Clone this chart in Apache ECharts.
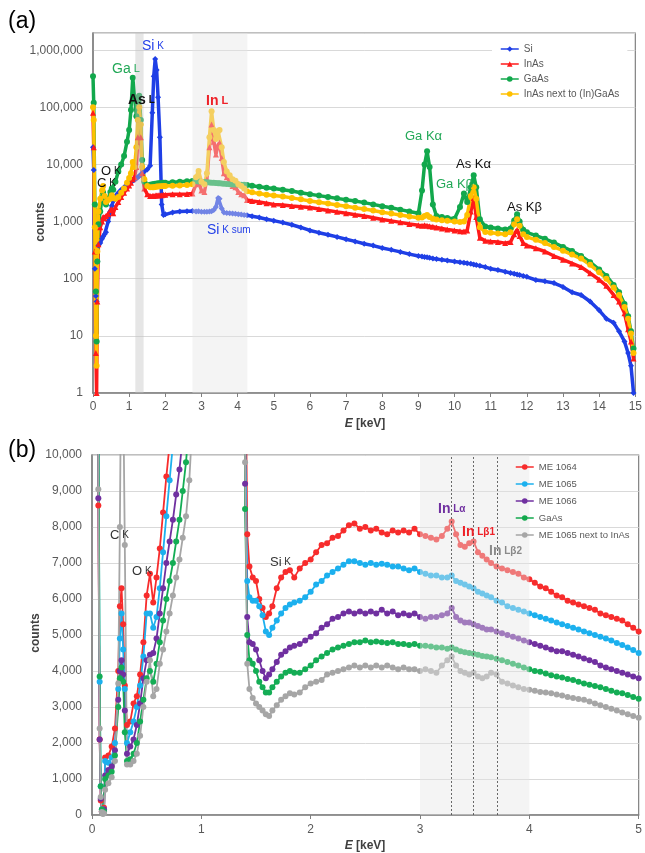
<!DOCTYPE html>
<html><head><meta charset="utf-8">
<script src="https://cdn.jsdelivr.net/npm/echarts/dist/echarts.min.js"></script>
<style>html,body{margin:0;padding:0;background:#fff}#c{width:645px;height:853px}</style>
</head><body><div id="c"></div>
<script>
// ---------- Panel (a): energies (keV) ----------
const E_A = [0,0.02,0.05,0.08,0.10,0.12,0.15,0.20,0.25,0.28,
0.32,0.36,0.42,0.48,0.52,0.56,0.62,0.70,0.78,0.86,
0.94,1.00,1.05,1.10,1.15,1.20,1.24,1.28,1.32,1.36,
1.42,1.50,1.58,1.64,1.68,1.72,1.76,1.80,1.85,1.90,
1.95,2.00,2.20,2.40,2.60,2.75,2.85,2.92,3.00,3.08,
3.15,3.22,3.28,3.34,3.40,3.46,3.50,3.56,3.62,3.70,
3.78,3.86,3.94,4.02,4.10,4.18,4.26,4.40,4.60,4.80,
5.00,5.25,5.50,5.75,6.00,6.25,6.50,6.75,7.00,7.25,
7.50,7.75,8.00,8.25,8.50,8.75,9.00,9.10,9.17,9.24,
9.31,9.40,9.50,9.65,9.80,10.00,10.15,10.26,10.35,10.45,
10.53,10.60,10.70,10.85,11.00,11.20,11.40,11.55,11.65,11.73,
11.80,11.90,12.00,12.25,12.50,12.75,13.00,13.25,13.50,13.75,
14.00,14.20,14.40,14.55,14.70,14.80,14.88,14.95];

const A_SI = [20000,8000,150,50,40,200,380,420,500,550,
600,650,1000,1500,1900,2300,2800,3200,3600,4000,
4400,4700,5000,5200,5400,5700,6000,6300,6700,7000,
7500,8200,9500,80000,350000,700000,450000,150000,30000,2000,
1300,1350,1450,1500,1520,1530,1500,1510,1490,1480,
1480,1500,1520,1600,1800,2600,2500,1700,1450,1420,
1400,1390,1370,1350,1330,1310,1290,1240,1180,1100,
1040,960,880,790,700,640,590,540,490,450,
410,380,345,320,295,270,250,245,240,238,
232,226,222,214,208,200,194,190,186,182,
178,174,168,160,150,142,133,126,122,119,
116,112,108,95,90,84,72,58,52,40,
28,20,17,12,8,5,3,1];

const A_INAS = [80000,20000,300,5,1,40,400,800,1000,1200,
1150,1250,1350,1600,1650,1400,1800,2200,2700,3200,
3800,4300,4800,5500,6000,9000,30000,60000,30000,7000,
3800,3000,2800,2800,2800,2850,2850,2900,2900,2900,
2950,2950,3000,3000,3050,3100,4500,5000,3500,3300,
5500,20000,50000,25000,15000,22000,24000,13000,7000,6000,
5000,4200,4000,3300,3000,2900,2400,2300,2200,2100,
2000,1950,1880,1820,1760,1660,1570,1480,1400,1320,
1250,1170,1090,1030,970,910,860,850,860,850,
830,810,790,760,730,700,680,670,700,1500,
2600,1200,520,460,450,440,420,440,600,720,
560,420,380,340,300,250,215,185,160,125,
96,75,52,40,25,13,8,4];

const A_GAAS = [350000,120000,2000,60,8,200,900,1500,2600,3200,
2200,2000,2500,3300,3800,3600,5000,7500,10000,14000,
25000,40000,90000,330000,150000,70000,100000,160000,60000,12000,
5000,4300,4400,4500,4500,4600,4600,4700,4700,4700,
4800,4800,4900,5000,5100,5150,5100,5050,5000,4950,
4900,4850,4800,4800,4750,4700,4700,4650,4600,4550,
4500,4480,4460,4440,4420,4400,4350,4250,4080,3920,
3800,3600,3420,3200,3000,2850,2700,2550,2420,2300,
2150,2000,1850,1750,1620,1500,1400,3500,10000,17000,
9000,2000,1250,1200,1160,1120,1800,3100,2200,4000,
6500,4000,1100,820,790,760,730,760,1050,1350,
1000,720,650,570,500,430,360,305,250,195,
145,112,78,58,36,22,12,6];

const A_INAS_NEXT = [100000,60000,800,10,3,300,1500,2500,3500,4200,
2800,2200,2400,2500,2900,2600,2500,2700,3200,3800,
4800,5800,7000,11000,9000,20000,60000,100000,50000,9000,
5500,4200,4000,4000,4000,4050,4100,4100,4150,4150,
4200,4200,4250,4300,4350,4500,6000,7700,5000,4500,
7000,30000,85000,40000,28000,38000,40000,20000,11000,7500,
6500,5500,5200,4500,4200,3800,3400,3250,3100,2950,
2850,2750,2600,2450,2300,2180,2070,1960,1850,1750,
1660,1560,1460,1380,1300,1230,1170,1180,1250,1300,
1200,1120,1090,1060,1030,1000,980,1000,1300,2800,
4000,2500,800,660,640,620,600,650,900,1100,
850,600,540,480,420,360,310,265,225,175,
130,100,70,52,32,20,11,5];

const NAMES_A = ['Si','InAs','GaAs','InAs next to (In)GaAs'];
const BANDS_A = [[1.17,1.40],[2.75,4.27]];

// ---------- Panel (b) ----------
const E_B = [0,0.03,0.045,0.058,0.07,0.08,0.09,0.10,0.11,0.12,
0.15,0.18,0.21,0.24,0.255,0.27,0.285,0.30,0.32,0.35,
0.38,0.41,0.44,0.47,0.50,0.53,0.56,0.59,0.62,0.65,
0.68,0.71,0.74,0.77,0.80,0.83,0.86,0.89,0.92,0.95,
1.00,1.20,1.36,1.40,1.42,1.44,1.47,1.50,1.53,1.56,
1.59,1.62,1.65,1.69,1.73,1.77,1.81,1.85,1.90,1.95,
2.00,2.05,2.10,2.15,2.20,2.25,2.30,2.35,2.40,2.45,
2.50,2.55,2.60,2.65,2.70,2.75,2.80,2.85,2.90,2.95,
3.00,3.05,3.10,3.15,3.20,3.25,3.29,3.33,3.37,3.41,
3.45,3.49,3.53,3.57,3.61,3.65,3.70,3.75,3.80,3.85,
3.90,3.95,4.00,4.05,4.10,4.15,4.20,4.25,4.30,4.35,
4.40,4.45,4.50,4.55,4.60,4.65,4.70,4.75,4.80,4.85,
4.90,4.95,5.00];

const B_ME1064 = [300000,150000,30000,8600,2100,400,100,150,200,1600,
1650,1900,2400,4000,5800,6300,5300,3600,2500,2600,
3100,3300,3900,4800,6100,6700,5900,6600,7400,8400,
9400,10300,11500,13000,15000,17000,19000,22000,25000,28000,
40000,80000,300000,14000,7800,6900,6600,6500,6000,5750,
5500,5600,5800,6300,6600,6750,6800,6600,6850,7000,
7100,7300,7500,7550,7700,7750,7900,8050,8100,7950,
8000,7900,7950,7850,7800,7900,7850,7900,7850,7950,
7800,7750,7700,7650,7750,7950,8150,7800,7500,7450,
7550,7600,7300,7200,7100,7000,6900,6850,6800,6750,
6700,6600,6550,6450,6350,6300,6200,6100,6050,5950,
5900,5850,5800,5750,5700,5600,5550,5500,5450,5400,
5300,5200,5100];

const B_ME1065 = [300000,150000,30000,12000,3700,800,150,100,150,1500,
1450,1600,2000,3500,4900,5600,4600,3500,2000,2300,
2600,3000,3600,4400,5600,5600,5200,5500,6300,7300,
8300,9300,10300,12000,14000,16000,19000,22000,25000,28000,
40000,80000,300000,11000,6500,6050,5950,5950,5800,5550,
5100,5000,5200,5400,5600,5750,5850,5900,5950,6050,
6200,6400,6500,6650,6750,6850,6950,7050,7050,7000,
6950,7000,6950,6980,6950,6900,6900,6850,6800,6850,
6750,6700,6650,6650,6600,6600,6650,6500,6450,6400,
6350,6300,6200,6150,6100,6050,5950,5900,5800,5750,
5700,5650,5600,5550,5500,5450,5400,5350,5300,5250,
5200,5150,5100,5050,5000,4950,4900,4850,4780,4720,
4650,4580,4500];

const B_ME1066 = [300000,150000,30000,8800,2100,450,100,80,150,1100,
1250,1350,1800,3200,4000,4300,3900,2900,1700,1900,
2100,2500,3100,3800,4300,4450,4500,4900,5600,6300,
7000,7600,8200,8900,9600,10500,12000,14000,16000,19000,
30000,80000,300000,9200,5500,4800,4750,4600,4300,4000,
3800,3900,4050,4250,4450,4550,4650,4700,4750,4850,
4950,5050,5200,5300,5450,5500,5600,5650,5600,5650,
5600,5650,5600,5700,5600,5650,5550,5600,5550,5600,
5500,5450,5500,5500,5550,5600,5750,5500,5400,5350,
5350,5300,5250,5200,5150,5150,5100,5050,5000,4950,
4900,4850,4800,4750,4700,4650,4600,4550,4550,4500,
4450,4400,4350,4300,4250,4150,4100,4050,4000,3950,
3900,3850,3800];

const B_GAAS = [300000,150000,30000,12000,3850,800,150,50,100,1000,
1100,1200,1650,3000,3800,4100,3700,2300,1500,1550,
1700,2000,2600,3200,3800,4000,3700,4200,4800,5400,
6000,6500,7000,7600,8200,9000,9800,11000,13000,15000,
30000,80000,300000,8500,5000,4300,4200,4000,3700,3550,
3400,3400,3550,3700,3850,3950,4000,3950,3950,4050,
4150,4300,4400,4500,4600,4650,4700,4750,4800,4800,
4850,4800,4820,4800,4780,4800,4750,4750,4720,4750,
4700,4700,4680,4650,4650,4620,4650,4600,4550,4520,
4500,4480,4450,4420,4400,4380,4340,4300,4250,4200,
4150,4100,4050,4000,3980,3930,3880,3850,3820,3780,
3750,3700,3650,3620,3580,3550,3500,3450,3400,3380,
3330,3280,3230];

const B_ME1065_NEXT = [300000,150000,30000,9050,2400,500,80,30,50,700,
880,1050,1500,3650,8000,14000,12000,7500,1400,1400,
1500,1700,2200,3000,3700,4300,3300,3500,4200,4600,
5100,5600,6100,6600,7100,7700,8300,9300,11000,13000,
30000,80000,300000,9800,4200,3500,3250,3100,3000,2900,
2800,2750,2900,3050,3200,3300,3380,3350,3400,3550,
3650,3700,3750,3900,3950,4000,4050,4100,4150,4100,
4150,4100,4150,4100,4150,4100,4050,4100,4050,4050,
4000,4050,4000,3950,4150,4300,4400,4150,4000,3950,
3900,3950,3850,3800,3850,3950,3900,3700,3650,3600,
3550,3500,3480,3450,3420,3400,3380,3350,3320,3280,
3250,3220,3200,3150,3100,3050,3000,2950,2900,2850,
2800,2750,2700];

const NAMES_B = ['ME 1064','ME 1065','ME 1066','GaAs','ME 1065 next to InAs'];
const BAND_B = [3.0, 4.0];
const IN_LINES_B = [3.29, 3.49, 3.71];

// ---------- styling ----------
const FONT = '"Liberation Sans", Arial, sans-serif';
const AX = '#808080', LBL = '#595959', GRIDC = '#d9d9d9';
const COL_A = ['#1f3fe6','#ff1a1a','#12a84c','#ffc000'];
const SYM_A = ['diamond','triangle','circle','circle'];
const COL_B = ['#f72c2c','#1cb0ee','#7030a0','#14ad55','#a6a6a6'];

const pairs = (xs, ys) => xs.map((x, i) => [x, ys[i]]);
const fmt = v => Math.round(v).toLocaleString('en-US');

const dataA = [A_SI, A_INAS, A_GAAS, A_INAS_NEXT];
const dataB = [B_ME1064, B_ME1065, B_ME1066, B_GAAS, B_ME1065_NEXT];

const series = [];
dataA.forEach((ys, i) => {
  const s = {
    name: NAMES_A[i], type: 'line', xAxisIndex: 0, yAxisIndex: 0,
    data: pairs(E_A, ys), symbol: SYM_A[i], symbolSize: 6,
    lineStyle: {width: 3.5, color: COL_A[i]}, itemStyle: {color: COL_A[i]},
    emphasis: {disabled: true}, silent: true
  };
  if (i === dataA.length - 1) {
    s.markArea = {
      silent: true, z: 10,
      itemStyle: {color: 'rgba(228,228,228,0.42)'},
      data: BANDS_A.map((b, k) => [
        {xAxis: b[0], itemStyle: {color: k === 0 ? 'rgba(195,195,195,0.42)' : 'rgba(228,228,228,0.42)'}},
        {xAxis: b[1]}
      ])
    };
  }
  series.push(s);
});
dataB.forEach((ys, i) => {
  const s = {
    name: NAMES_B[i], type: 'line', xAxisIndex: 1, yAxisIndex: 1,
    data: pairs(E_B, ys), symbol: 'circle', symbolSize: 6,
    lineStyle: {width: 1.8, color: COL_B[i]}, itemStyle: {color: COL_B[i]},
    emphasis: {disabled: true}, silent: true
  };
  if (i === dataB.length - 1) {
    s.markArea = {
      silent: true, z: 10,
      itemStyle: {color: 'rgba(228,228,228,0.42)'},
      data: [[{xAxis: BAND_B[0]}, {xAxis: BAND_B[1]}]]
    };
    s.markLine = {
      silent: true, z: 11, symbol: ['none','none'],
      label: {show: false},
      lineStyle: {type: [2, 2], color: '#444', width: 0.8},
      data: IN_LINES_B.map(v => ({xAxis: v}))
    };
  }
  series.push(s);
});

function xAxisCfg(grid, max, margin) {
  return {gridIndex: grid, type: 'value', min: 0, max: max, interval: 1,
    axisLine: {show: true, onZero: false, lineStyle: {color: AX, width: 1.5}},
    axisTick: {show: true, length: 4, lineStyle: {color: AX}},
    axisLabel: {color: LBL, fontSize: 12, fontFamily: FONT, margin: margin},
    splitLine: {show: false}};
}

function ann(x, y, text, rich) {
  const r = {};
  Object.keys(rich).forEach(k => { r[k] = Object.assign({fontFamily: FONT}, rich[k]); });
  return {type: 'text', x: x, y: y, z: 100, silent: true,
    style: {text: text, rich: r, align: 'left', verticalAlign: 'middle', font: '12px ' + FONT}};
}

const BLUE_T = '#2440e8', GREEN_T = '#22a857', RED_T = '#ee2128', BLK = '#111', PUR = '#7030a0', GRY = '#8a8a8a';
const graphic = [
  ann(8, 22, '{a|(a)}', {a: {fontSize: 23, fill: '#000'}}),
  ann(8, 451, '{a|(b)}', {a: {fontSize: 23, fill: '#000'}}),
  ann(142, 46, '{a|Si}{b| K}', {a: {fontSize: 14, fill: BLUE_T}, b: {fontSize: 10, fill: BLUE_T}}),
  ann(112, 69, '{a|Ga}{b| L}', {a: {fontSize: 14, fill: GREEN_T}, b: {fontSize: 11, fill: GREEN_T}}),
  ann(128, 100, '{a|As}{b| L}', {a: {fontSize: 14, fontWeight: 'bold', fill: BLK}, b: {fontSize: 10, fontWeight: 'bold', fill: BLK}}),
  ann(206, 101, '{a|In}{b| L}', {a: {fontSize: 14, fontWeight: 'bold', fill: RED_T}, b: {fontSize: 11, fontWeight: 'bold', fill: RED_T}}),
  ann(101, 171, '{a|O}{b| K}', {a: {fontSize: 13, fill: BLK}, b: {fontSize: 10, fill: BLK}}),
  ann(97, 183, '{a|C}{b| K}', {a: {fontSize: 13, fill: BLK}, b: {fontSize: 10, fill: BLK}}),
  ann(207, 230, '{a|Si}{b| K sum}', {a: {fontSize: 14, fill: BLUE_T}, b: {fontSize: 10, fill: BLUE_T}}),
  ann(405, 136, '{a|Ga K\u03b1}', {a: {fontSize: 13, fill: GREEN_T}}),
  ann(456, 164, '{a|As K\u03b1}', {a: {fontSize: 13, fill: BLK}}),
  ann(436, 184, '{a|Ga K\u03b2}', {a: {fontSize: 13, fill: GREEN_T}}),
  ann(507, 207, '{a|As K\u03b2}', {a: {fontSize: 13, fill: BLK}}),
  ann(110, 535, '{a|C}{b| K}', {a: {fontSize: 13, fill: '#333'}, b: {fontSize: 10, fill: '#333'}}),
  ann(132, 571, '{a|O}{b| K}', {a: {fontSize: 13, fill: '#333'}, b: {fontSize: 10, fill: '#333'}}),
  ann(270, 562, '{a|Si}{b| K}', {a: {fontSize: 13, fill: '#333'}, b: {fontSize: 10, fill: '#333'}}),
  ann(438, 509, '{a|In}{b| L\u03b1}', {a: {fontSize: 14, fontWeight: 'bold', fill: PUR}, b: {fontSize: 10, fontWeight: 'bold', fill: PUR}}),
  ann(462, 532, '{a|In}{b| L\u03b21}', {a: {fontSize: 14, fontWeight: 'bold', fill: RED_T}, b: {fontSize: 10, fontWeight: 'bold', fill: RED_T}}),
  ann(489, 551, '{a|In}{b| L\u03b22}', {a: {fontSize: 14, fontWeight: 'bold', fill: GRY}, b: {fontSize: 10, fontWeight: 'bold', fill: GRY}}),
  {type: 'text', x: 41, y: 222, rotation: Math.PI / 2, z: 100, silent: true,
   style: {text: 'counts', font: 'bold 12px ' + FONT, fill: '#404040', align: 'center', verticalAlign: 'middle'}},
  {type: 'text', x: 36, y: 633, rotation: Math.PI / 2, z: 100, silent: true,
   style: {text: 'counts', font: 'bold 12px ' + FONT, fill: '#404040', align: 'center', verticalAlign: 'middle'}},
  {type: 'text', x: 365, y: 424, z: 100, silent: true,
   style: {text: '{i|E}{a| [keV]}', align: 'center', verticalAlign: 'middle',
     rich: {i: {font: 'italic bold 12px ' + FONT, fill: '#404040'}, a: {font: 'bold 12px ' + FONT, fill: '#404040'}}}},
  {type: 'text', x: 365, y: 846, z: 100, silent: true,
   style: {text: '{i|E}{a| [keV]}', align: 'center', verticalAlign: 'middle',
     rich: {i: {font: 'italic bold 12px ' + FONT, fill: '#404040'}, a: {font: 'bold 12px ' + FONT, fill: '#404040'}}}}
];

const option = {
  animation: false,
  backgroundColor: '#fff',
  grid: [
    {left: 93, top: 33, width: 546, height: 360, show: true, borderColor: AX, borderWidth: 1.2},
    {left: 92, top: 455, width: 547, height: 360, show: true, borderColor: AX, borderWidth: 1.2}
  ],
  xAxis: [xAxisCfg(0, 15, 8), xAxisCfg(1, 5, 9)],
  yAxis: [
    {gridIndex: 0, type: 'log', logBase: 10, min: 1, max: 2000000,
     axisLine: {show: true, lineStyle: {color: AX, width: 1.5}},
     axisTick: {show: false},
     axisLabel: {color: LBL, fontSize: 12, fontFamily: FONT, margin: 10, formatter: fmt, showMaxLabel: false},
     splitLine: {show: true, lineStyle: {color: GRIDC, width: 1}}},
    {gridIndex: 1, type: 'value', min: 0, max: 10000, interval: 1000,
     axisLine: {show: true, onZero: false, lineStyle: {color: AX, width: 1.5}},
     axisTick: {show: false},
     axisLabel: {color: LBL, fontSize: 12, fontFamily: FONT, margin: 10, formatter: fmt},
     splitLine: {show: true, lineStyle: {color: GRIDC, width: 1}}}
  ],
  legend: [
    {data: NAMES_A, orient: 'vertical', left: 492, top: 40, itemWidth: 18, itemHeight: 7, itemGap: 5,
     padding: [4, 8, 4, 8], backgroundColor: '#fff', lineStyle: {width: 1.5}, z: 20,
     textStyle: {color: LBL, fontSize: 10, fontFamily: FONT}},
    {data: NAMES_B, orient: 'vertical', left: 512, top: 458, itemWidth: 18, itemHeight: 7, itemGap: 7,
     padding: [4, 3, 4, 3], backgroundColor: 'rgba(255,255,255,0)', lineStyle: {width: 1.5}, z: 20,
     textStyle: {color: LBL, fontSize: 9.5, fontFamily: FONT}}
  ],
  series: series,
  graphic: graphic
};

const chart = echarts.init(document.getElementById('c'), null, {renderer: 'canvas'});
chart.setOption(option);
</script></body></html>
